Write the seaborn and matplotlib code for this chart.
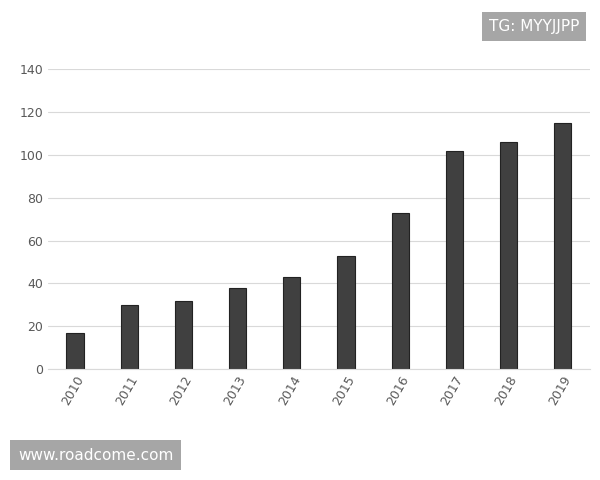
import matplotlib
matplotlib.use("Agg")
import matplotlib.pyplot as plt
import seaborn as sns
import pandas as pd

years = ["2010", "2011", "2012", "2013", "2014", "2015", "2016", "2017", "2018", "2019"]
values = [17, 30, 32, 38, 43, 53, 73, 102, 106, 115]

df = pd.DataFrame({"year": years, "value": values})

sns.set_style("white")
plt.rcParams["font.family"] = ["DejaVu Sans"]

fig = plt.figure(figsize=(6, 4.8), dpi=100)
ax = fig.add_axes([0.08, 0.231, 0.903, 0.625])
sns.barplot(data=df, x="year", y="value", color="#404040", width=0.32,
            edgecolor="#222222", linewidth=0.8, ax=ax, saturation=1)
ax.set_ylim(0, 140)
ax.set_yticks(range(0, 141, 20))
ax.yaxis.grid(True, color="#d9d9d9", linewidth=0.8)
ax.set_axisbelow(True)
for s in ["top", "right", "left"]:
    ax.spines[s].set_visible(False)
ax.spines["bottom"].set_color("#d9d9d9")
ax.set_xlabel("")
ax.set_ylabel("")
ax.tick_params(axis="both", length=0, labelsize=9, colors="#595959")
plt.setp(ax.get_xticklabels(), rotation=60, ha="right", rotation_mode="anchor")

fig.text(0.965, 0.945, "TG: MYYJJPP", ha="right", va="center", color="white", fontsize=11,
         bbox=dict(boxstyle="square,pad=0.45", facecolor="#a6a6a6", edgecolor="none"))
fig.text(0.03, 0.052, "www.roadcome.com", ha="left", va="center", color="white", fontsize=11,
         bbox=dict(boxstyle="square,pad=0.5", facecolor="#a6a6a6", edgecolor="none"))

fig.savefig("out.png", dpi=100)
